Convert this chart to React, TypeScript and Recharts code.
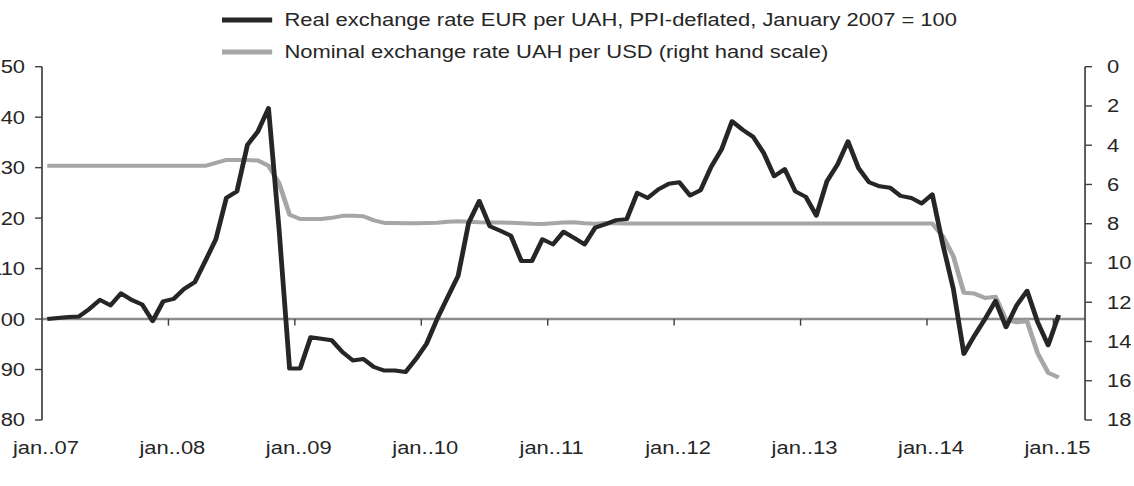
import React from 'react';
import { LineChart, Line, XAxis, YAxis, ReferenceLine, Legend } from 'recharts';

const REAL_NAME = 'Real exchange rate EUR per UAH, PPI-deflated, January 2007 = 100';
const NOMINAL_NAME = 'Nominal exchange rate UAH per USD (right hand scale)';
const SERIES_ORDER = [REAL_NAME, NOMINAL_NAME];

// Monthly, Jan 2007 ... Jan 2015
const realRate = [
  100.0, 100.2, 100.4, 100.5, 102.0, 103.8, 102.7, 105.1, 103.8, 102.9, 99.6, 103.5,
  104.0, 106.0, 107.3, 111.5, 115.8, 124.0, 125.3, 134.5, 137.2, 141.8, 117.8, 90.2,
  90.2, 96.4, 96.1, 95.8, 93.5, 91.8, 92.1, 90.5, 89.8, 89.8, 89.5, 92.1,
  95.1, 100.0, 104.3, 108.6, 119.1, 123.4, 118.4, 117.5, 116.5, 111.5, 111.5, 115.8,
  114.8, 117.3, 116.1, 114.8, 118.1, 118.8, 119.6, 119.8, 125.0, 124.0, 125.7, 126.8,
  127.1, 124.5, 125.5, 130.1, 133.6, 139.2, 137.5, 136.1, 132.9, 128.3, 129.7, 125.3,
  124.2, 120.5, 127.3, 130.6, 135.2, 129.9, 127.1, 126.3, 126.0, 124.4, 124.0, 122.9,
  124.7, 114.8, 106.0, 93.1, 96.7, 100.0, 103.6, 98.4, 102.7, 105.6, 99.4, 94.8,
  100.8,
];

const nominalRate = [
  5.05, 5.05, 5.05, 5.05, 5.05, 5.05, 5.05, 5.05, 5.05, 5.05, 5.05, 5.05,
  5.05, 5.05, 5.05, 5.05, 4.9, 4.75, 4.75, 4.75, 4.78, 5.05, 5.93, 7.54,
  7.76, 7.76, 7.76, 7.7, 7.6, 7.6, 7.62, 7.83, 7.96, 7.96, 7.97, 7.97,
  7.96, 7.95, 7.9, 7.87, 7.9, 7.93, 7.94, 7.94, 7.95, 7.97, 8.0, 8.02,
  7.98, 7.94, 7.93, 7.98, 8.0, 7.96, 7.97, 7.99, 7.99, 7.99, 7.99, 7.99,
  7.99, 7.99, 7.99, 7.99, 7.99, 7.99, 7.99, 7.99, 7.99, 7.99, 7.99, 7.99,
  7.99, 7.99, 7.99, 7.99, 7.99, 7.99, 7.99, 7.99, 7.99, 7.99, 7.99, 7.99,
  7.99, 8.64, 9.66, 11.52, 11.56, 11.78, 11.72, 12.9, 13.02, 12.97, 14.6, 15.59,
  15.84,
];

const yearTickLabels = ['jan..07', 'jan..08', 'jan..09', 'jan..10', 'jan..11', 'jan..12', 'jan..13', 'jan..14', 'jan..15'];
const leftTicks = [80, 90, 100, 110, 120, 130, 140, 150];
const rightTicks = [0, 2, 4, 6, 8, 10, 12, 14, 16, 18];

const data = realRate.map((v, i) => ({ m: i + 0.5, real: v, nominal: nominalRate[i] }));
const monthTicks = yearTickLabels.map((_, k) => k * 12);

const FONT = '"Liberation Sans", Arial, sans-serif';
const FS = 18.3;
const TEXT = '#262626';
const AXIS = '#404040';

const XTick = (props: any) => {
  const { x, y, payload } = props;
  const label = yearTickLabels[Math.round(payload.value / 12)];
  return (
    <text x={x + 3.3} y={y} dy="0.71em" textAnchor="middle" fill={TEXT} fontSize={FS} fontFamily={FONT}>
      {label}
    </text>
  );
};

const LegendContent = (props: any) => {
  const items = [...(props.payload || [])].sort(
    (a: any, b: any) => SERIES_ORDER.indexOf(a.value) - SERIES_ORDER.indexOf(b.value)
  );
  return (
    <div style={{ fontFamily: FONT, fontSize: FS, color: TEXT }}>
      {items.map((e: any) => (
        <div key={e.value} style={{ display: 'flex', alignItems: 'center', height: 32, whiteSpace: 'nowrap' }}>
          <svg width={42} height={8} style={{ display: 'block' }}>
            <line x1={0} y1={4} x2={42} y2={4} stroke={e.color} strokeWidth={5} />
          </svg>
          <span style={{ marginLeft: 10 }}>{e.value}</span>
        </div>
      ))}
    </div>
  );
};

export default function App() {
  return (
    <div
      style={{
        position: 'absolute',
        left: 0,
        top: 0,
        width: 945,
        height: 486,
        transform: 'scaleX(1.2)',
        transformOrigin: '0 0',
        background: '#fff',
      }}
    >
      <LineChart width={945} height={486} data={data} margin={{ top: 66.7, right: 0, bottom: 0, left: 0 }}>
        <XAxis
          dataKey="m"
          type="number"
          domain={[0, 99]}
          ticks={monthTicks}
          interval={0}
          axisLine={false}
          tickLine={false}
          tickSize={0}
          tickMargin={21}
          height={66}
          tick={<XTick />}
        />
        <YAxis
          yAxisId="left"
          domain={[80, 150]}
          ticks={leftTicks}
          interval={0}
          width={35}
          tickSize={5.8}
          tickMargin={8.3}
          axisLine={{ stroke: AXIS, strokeWidth: 1.4 }}
          tickLine={{ stroke: AXIS, strokeWidth: 1.4 }}
          tick={{ fill: TEXT, fontSize: FS, fontFamily: FONT }}
        />
        <YAxis
          yAxisId="right"
          orientation="right"
          reversed
          domain={[0, 18]}
          ticks={rightTicks}
          interval={0}
          width={40.8}
          tickSize={5.8}
          tickMargin={12.5}
          axisLine={{ stroke: AXIS, strokeWidth: 1.4 }}
          tickLine={{ stroke: AXIS, strokeWidth: 1.4 }}
          tick={{ fill: TEXT, fontSize: FS, fontFamily: FONT }}
        />
        <ReferenceLine yAxisId="left" y={100} stroke="#8c8c8c" strokeWidth={2.5} />
        {monthTicks.slice(1).map((t) => (
          <ReferenceLine
            key={t}
            yAxisId="left"
            segment={[{ x: t, y: 100 }, { x: t, y: 98.7 }]}
            stroke={AXIS}
            strokeWidth={1.2}
          />
        ))}
        <Legend
          layout="horizontal"
          verticalAlign="middle"
          align="center"
          content={<LegendContent />}
          wrapperStyle={{ top: 4, left: 185, width: 650, height: 64 }}
        />
        <Line
          yAxisId="right"
          dataKey="nominal"
          name={NOMINAL_NAME}
          stroke="#a6a6a6"
          strokeWidth={4}
          strokeLinejoin="round"
          dot={false}
          activeDot={false}
          isAnimationActive={false}
        />
        <Line
          yAxisId="left"
          dataKey="real"
          name={REAL_NAME}
          stroke="#262626"
          strokeWidth={4}
          strokeLinejoin="round"
          dot={false}
          activeDot={false}
          isAnimationActive={false}
        />
      </LineChart>
    </div>
  );
}
